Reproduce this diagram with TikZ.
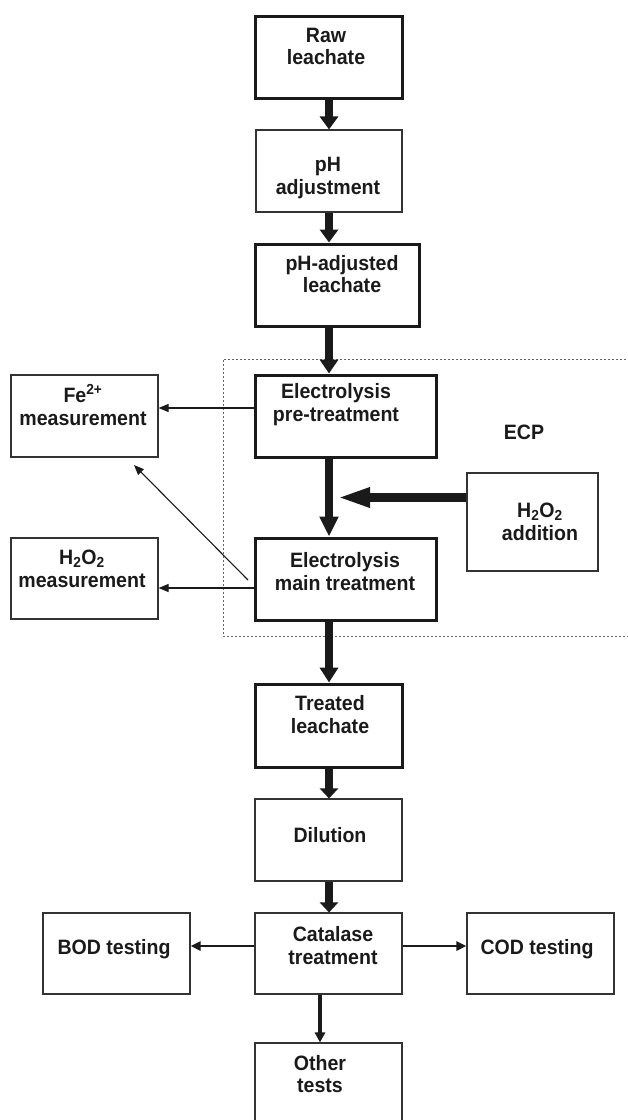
\documentclass[tikz,border=0pt]{standalone}
\usepackage{fontspec}
\setmainfont{Liberation Sans}[FakeStretch=0.94]
\usetikzlibrary{arrows.meta}
\definecolor{ink}{HTML}{1A1A1A}
\definecolor{edge}{HTML}{333333}
\tikzset{
  thinbox/.style={draw=edge, line width=1.1pt, inner sep=0pt},
  thickbox/.style={draw=ink, line width=3pt, inner sep=0pt},
  txt/.style={font=\bfseries\fontsize{20.8}{22.8}\selectfont, align=center, text=ink, inner sep=0pt},
  bigarrow/.style={draw=ink, line width=8pt},
  thinarrow/.style={draw=ink, line width=1.1pt, -{Triangle[length=10pt,width=8pt]}},
  medarrow/.style={draw=ink, line width=2.6pt, -{Triangle[length=10pt,width=9pt]}},
  ecpline/.style={draw=black!60, line width=0.9pt, dash pattern=on 2pt off 2pt}
}
\begin{document}
\begin{tikzpicture}[x=1pt,y=-1pt]
\clip (0,0) rectangle (628,1120);
\fill[white] (0,0) rectangle (628,1120);
% ECP dotted region
\draw[ecpline] (630,359) -- (223,359) -- (223,636) -- (630,636);
\node[txt] (ecp) at (524,432) {ECP};
% boxes
\node[thickbox, minimum width=147pt, minimum height=82pt] (raw) at (328.5,57) {};
\node[thinbox, minimum width=146pt, minimum height=82pt] (phadj) at (329,171) {};
\node[thickbox, minimum width=164pt, minimum height=82pt] (phl) at (337,285) {};
\node[thickbox, minimum width=181pt, minimum height=82pt] (pre) at (345.5,416) {};
\node[thinbox, minimum width=147pt, minimum height=82pt] (fe) at (84.5,416) {};
\node[thinbox, minimum width=131pt, minimum height=98pt] (add) at (532.5,522) {};
\node[thickbox, minimum width=181pt, minimum height=82pt] (main) at (345.5,579) {};
\node[thinbox, minimum width=147pt, minimum height=81pt] (hm) at (84.5,578.5) {};
\node[thickbox, minimum width=147pt, minimum height=83pt] (treated) at (328.5,725.5) {};
\node[thinbox, minimum width=147pt, minimum height=82pt] (dil) at (328.5,840) {};
\node[thinbox, minimum width=147pt, minimum height=81pt] (cat) at (328.5,953.5) {};
\node[thinbox, minimum width=147pt, minimum height=81pt] (bod) at (116.5,953.5) {};
\node[thinbox, minimum width=147pt, minimum height=81pt] (cod) at (540.5,953.5) {};
\node[thinbox, minimum width=147pt, minimum height=82pt] (other) at (328.5,1084) {};
% texts
\node[txt] (raw-t) at (326,46.5) {Raw\\leachate};
\node[txt] (phadj-t) at (328,178) {pH\\adjustment};
\node[txt] (phl-t) at (342,274) {pH-adjusted\\leachate};
\node[txt] (pre-t) at (336,404.5) {Electrolysis\\pre-treatment};
\node[txt] (fe-t) at (83,405) {Fe\textsuperscript{2+}\\measurement};
\node[txt] (add-t) at (540,522) {H\textsubscript{2}O\textsubscript{2}\\addition};
\node[txt] (main-t) at (345,571.5) {Electrolysis\\main treatment};
\node[txt] (hm-t) at (82,569) {H\textsubscript{2}O\textsubscript{2}\\measurement};
\node[txt] (treated-t) at (330,714.5) {Treated\\leachate};
\node[txt] (dil-t) at (330,835) {Dilution};
\node[txt] (cat-t) at (333,945.5) {Catalase\\treatment};
\node[txt] (bod-t) at (114,949) {BOD testing};
\node[txt] (cod-t) at (537,949) {COD testing};
\node[txt] (other-t) at (320,1074) {Other\\tests};
% helper coordinates
\coordinate (ax) at (329,0);
\coordinate (ox) at (320,0);
\coordinate (join) at (337,497.5);
\coordinate (dstart) at (248,580);
\coordinate (dend) at (134,465);
% main flow arrows
\draw[bigarrow, -{Triangle[length=13pt,width=18pt]}] (raw.south -| ax) -- (phadj.north -| ax);
\draw[bigarrow, -{Triangle[length=13pt,width=18pt]}] (phadj.south -| ax) -- (phl.north -| ax);
\draw[bigarrow, -{Triangle[length=14pt,width=18pt]}] (phl.south -| ax) -- (pre.north -| ax);
\draw[bigarrow, -{Triangle[length=20pt,width=18pt]}] (pre.south -| ax) -- (main.north -| ax);
\draw[bigarrow, line width=9pt, -{Triangle[length=33pt,width=18pt]}] ([yshift=24.5pt]add.west) -- (join);
\draw[bigarrow, -{Triangle[length=15pt,width=18pt]}] (main.south -| ax) -- (treated.north -| ax);
\draw[bigarrow, -{Triangle[length=10pt,width=18pt]}] (treated.south -| ax) -- (dil.north -| ax);
\draw[bigarrow, -{Triangle[length=10pt,width=18pt]}] (dil.south -| ax) -- (cat.north -| ax);
% measurement arrows
\draw[thinarrow] ([yshift=8pt]pre.west) -- ([yshift=8pt]fe.east);
\draw[thinarrow] ([yshift=-9pt]main.west) -- ([yshift=-9.5pt]hm.east);
\draw[thinarrow] (dstart) -- (dend);
% test arrows
\draw[medarrow] ([yshift=7.5pt]cat.west) -- ([yshift=7.5pt]bod.east);
\draw[medarrow] ([yshift=7.5pt]cat.east) -- ([yshift=7.5pt]cod.west);
\draw[medarrow, line width=3.5pt, -{Triangle[length=10pt,width=10pt]}] (cat.south -| ox) -- (other.north -| ox);
\end{tikzpicture}
\end{document}
